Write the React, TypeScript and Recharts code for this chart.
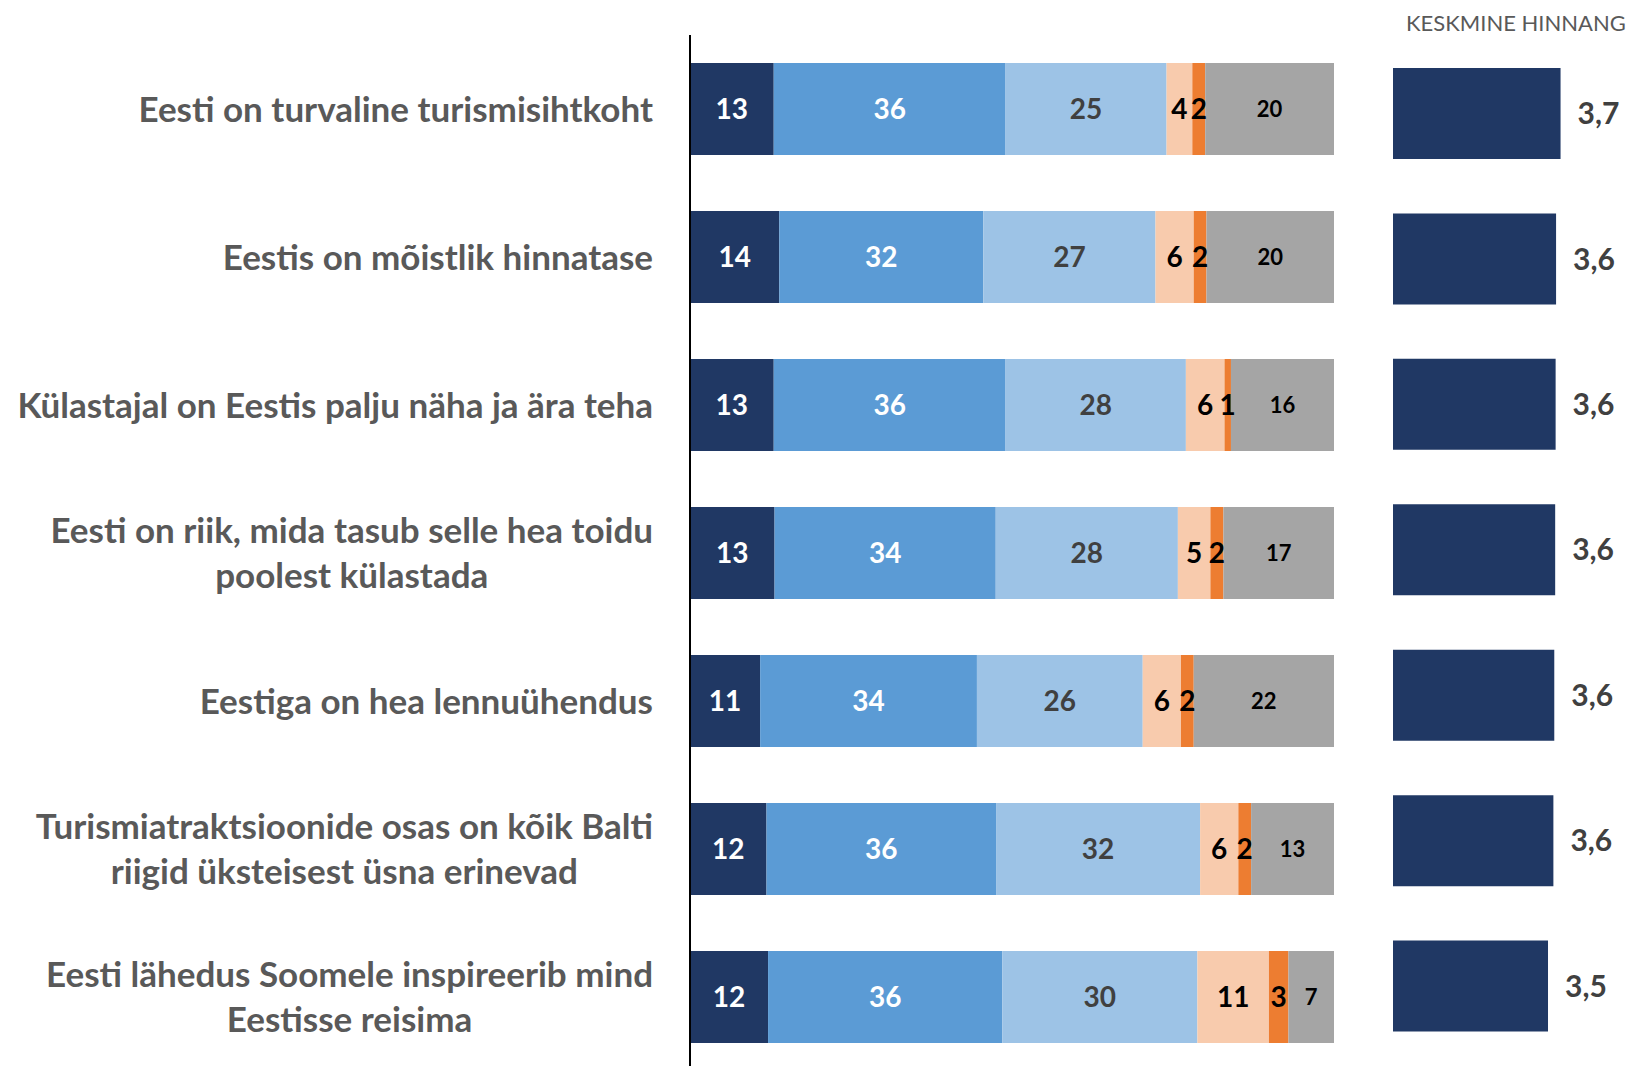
import { Bar, BarChart, LabelList, XAxis, YAxis } from "recharts";

const categories = [
  "Eesti on turvaline turismisihtkoht",
  "Eestis on mõistlik hinnatase",
  "Külastajal on Eestis palju näha ja ära teha",
  "Eesti on riik, mida tasub selle hea toidu\npoolest külastada",
  "Eestiga on hea lennuühendus",
  "Turismiatraktsioonide osas on kõik Balti\nriigid üksteisest üsna erinevad",
  "Eesti lähedus Soomele inspireerib mind\nEestisse reisima",
];

// shares per answer group, %
const s1 = [13, 14, 13, 13, 11, 12, 12];
const s2 = [36, 32, 36, 34, 34, 36, 36];
const s3 = [25, 27, 28, 28, 26, 32, 30];
const s4 = [4, 6, 6, 5, 6, 6, 11];
const s5 = [2, 2, 1, 2, 2, 2, 3];
const s6 = [20, 20, 16, 17, 22, 13, 7];

// average score
const avgScore = [3.74, 3.64, 3.63, 3.62, 3.6, 3.58, 3.46];
const avgTitle = "KESKMINE HINNANG";

const FONT = "Lato, 'Open Sans', sans-serif";
const LABEL_PX = 35;

const series = [
  { key: "s1", fill: "#203864", text: "#ffffff", size: 28 },
  { key: "s2", fill: "#5b9bd5", text: "#ffffff", size: 28 },
  { key: "s3", fill: "#9dc3e6", text: "#404040", size: 28 },
  { key: "s4", fill: "#f8cbad", text: "#000000", size: 28 },
  { key: "s5", fill: "#ed7d31", text: "#000000", size: 28 },
  { key: "s6", fill: "#a5a5a5", text: "#000000", size: 22 },
];

const stackData = categories.map((name, i) => ({
  name,
  s1: s1[i],
  s2: s2[i],
  s3: s3[i],
  s4: s4[i],
  s5: s5[i],
  s6: s6[i],
}));

const avgData = categories.map((name, i) => ({ name, avg: avgScore[i] }));

let ctx: CanvasRenderingContext2D | null = null;
function textWidth(t: string): number {
  if (!ctx) ctx = document.createElement("canvas").getContext("2d");
  if (!ctx) return t.length * LABEL_PX * 0.45;
  ctx.font = `bold ${LABEL_PX}px ${FONT}`;
  return ctx.measureText(t).width;
}

function CategoryTick(props: any) {
  const { x, y, payload } = props;
  const lines: string[] = String(payload.value).split("\n");
  const maxW = Math.max(...lines.map(textWidth));
  const cx = x - maxW / 2;
  const lh = 45;
  const y0 = y - ((lines.length - 1) * lh) / 2;
  return (
    <text
      textAnchor="middle"
      fill="#595959"
      fontFamily={FONT}
      fontWeight="bold"
      fontSize={LABEL_PX}
    >
      {lines.map((l, i) => (
        <tspan key={i} x={cx} y={y0 + i * lh} dy="0.36em">
          {l}
        </tspan>
      ))}
    </text>
  );
}

const fmtAvg = (v: any) => Number(v).toFixed(1).replace(".", ",");

export default function App() {
  return (
    <div
      style={{
        position: "fixed",
        left: 0,
        top: 0,
        width: 1634,
        height: 1066,
        overflow: "hidden",
        background: "#fff",
        fontFamily: FONT,
      }}
    >
      <div style={{ position: "absolute", left: 0, top: 0 }}>
        <BarChart
          width={1340}
          height={1080}
          data={stackData}
          layout="vertical"
          stackOffset="expand"
          barCategoryGap={28}
          margin={{ top: 35, right: 6, bottom: 9, left: 0 }}
        >
          <XAxis type="number" hide domain={[0, 1]} />
          <YAxis
            type="category"
            dataKey="name"
            width={690}
            axisLine={{ stroke: "#000", strokeWidth: 2 }}
            tickLine={false}
            tickSize={0}
            tickMargin={37}
            interval={0}
            tick={<CategoryTick />}
          />
          {series.map((s) => (
            <Bar
              key={s.key}
              dataKey={s.key}
              stackId="a"
              fill={s.fill}
              isAnimationActive={false}
            >
              <LabelList
                dataKey={s.key}
                position="center"
                fill={s.text}
                fontSize={s.size}
                fontWeight="bold"
                fontFamily={FONT}
              />
            </Bar>
          ))}
        </BarChart>
      </div>

      <div
        style={{
          position: "absolute",
          left: 1406,
          top: 9,
          fontSize: 22,
          color: "#595959",
          whiteSpace: "nowrap",
        }}
      >
        {avgTitle}
      </div>

      <div style={{ position: "absolute", left: 1380, top: 0 }}>
        <BarChart
          width={254}
          height={1066}
          data={avgData}
          layout="vertical"
          barCategoryGap={27}
          margin={{ top: 41, right: 17, bottom: 7, left: 13 }}
        >
          <XAxis type="number" hide domain={[0, 5]} />
          <YAxis type="category" dataKey="name" hide />
          <Bar dataKey="avg" fill="#203864" isAnimationActive={false}>
            <LabelList
              dataKey="avg"
              position="right"
              offset={17}
              formatter={fmtAvg}
              fill="#404040"
              fontSize={30}
              fontWeight="bold"
              fontFamily={FONT}
            />
          </Bar>
        </BarChart>
      </div>
    </div>
  );
}
